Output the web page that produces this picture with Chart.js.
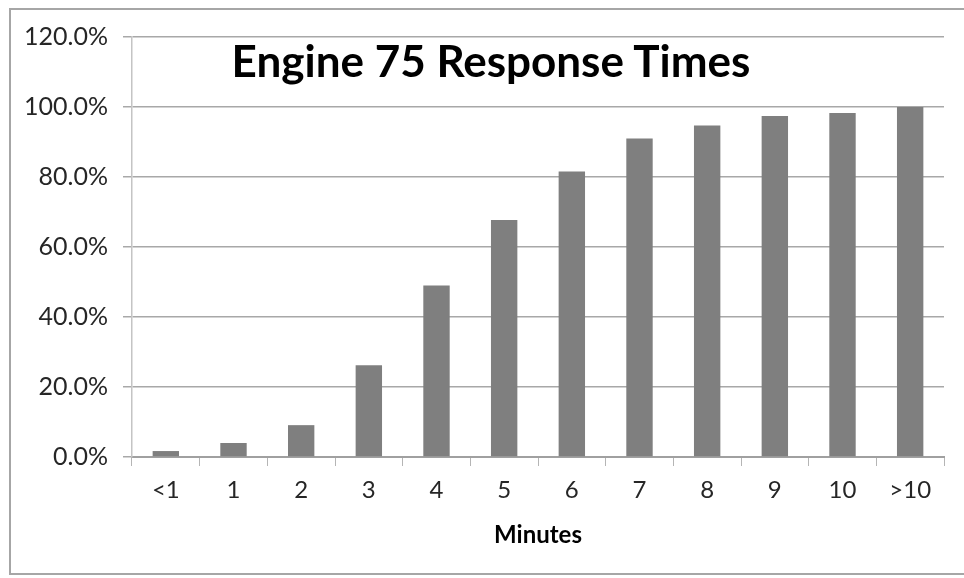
<!DOCTYPE html>
<html>
<head>
<meta charset="utf-8">
<script src="https://cdn.jsdelivr.net/npm/chart.js@4.4.1/dist/chart.umd.min.js"></script>
<style>
  html, body { margin: 0; padding: 0; background: #ffffff; }
  #wrap { position: relative; width: 964px; height: 578px; overflow: hidden; background: #fff; }
  #frame { position: absolute; left: 9px; top: 8px; width: 970px; height: 567px; border: 2px solid #a6a6a6; box-sizing: border-box; }
  #c { position: absolute; left: 0; top: 0; }
  #title { position: absolute; left: 132px; width: 718px; top: 34px; text-align: center;
           font-family: Lato, "Open Sans", sans-serif; font-weight: bold; font-size: 44px; color: #000; }
</style>
</head>
<body>
<div id="wrap">
  <div id="frame"></div>
  <canvas id="c" width="964" height="578"></canvas>
  <div id="title">Engine 75 Response Times</div>
</div>
<script>
const categories = ['<1', '1', '2', '3', '4', '5', '6', '7', '8', '9', '10', '>10'];
const cumulativePercent = [1.7, 4.0, 9.1, 26.2, 49.0, 67.7, 81.6, 91.0, 94.7, 97.4, 98.3, 100.0];
const yTickValues = [0, 20, 40, 60, 80, 100, 120];
const xAxisTitle = 'Minutes';

const fontFamily = 'Lato, "Open Sans", sans-serif';

new Chart(document.getElementById('c'), {
  type: 'bar',
  data: {
    labels: categories,
    datasets: [{
      data: cumulativePercent,
      backgroundColor: '#7f7f7f',
      borderWidth: 0,
      barPercentage: 0.78,
      categoryPercentage: 0.5
    }]
  },
  options: {
    responsive: false,
    animation: false,
    devicePixelRatio: 1,
    layout: { padding: { top: 37, right: 20, left: 0, bottom: 0 } },
    plugins: { legend: { display: false }, tooltip: { enabled: false }, title: { display: false } },
    scales: {
      x: {
        grid: { display: true, drawOnChartArea: false, drawTicks: true, tickLength: 9, color: '#b5b5b5', offset: true },
        border: { display: true, color: '#a0a0a0', width: 2 },
        ticks: { color: '#262626', font: { family: fontFamily, size: 24 }, padding: 10, maxRotation: 0, autoSkip: false },
        title: { display: true, text: xAxisTitle, color: '#000', font: { family: fontFamily, size: 24, weight: 'bold' }, padding: { top: 0, bottom: 28 } },
        afterFit: s => { s.height = 121; }
      },
      y: {
        min: 0, max: 120,
        afterBuildTicks: s => { s.ticks = yTickValues.map(v => ({ value: v })); },
        grid: { color: '#a8a8a8', lineWidth: 1.5, tickLength: 9, drawTicks: true },
        border: { display: true, color: '#c4c4c4', width: 1.5 },
        ticks: { color: '#262626', font: { family: fontFamily, size: 25 }, padding: 15,
                 callback: v => v.toFixed(1) + '%' },
        afterFit: s => { s.width = 132; }
      }
    }
  }
});
</script>
</body>
</html>
